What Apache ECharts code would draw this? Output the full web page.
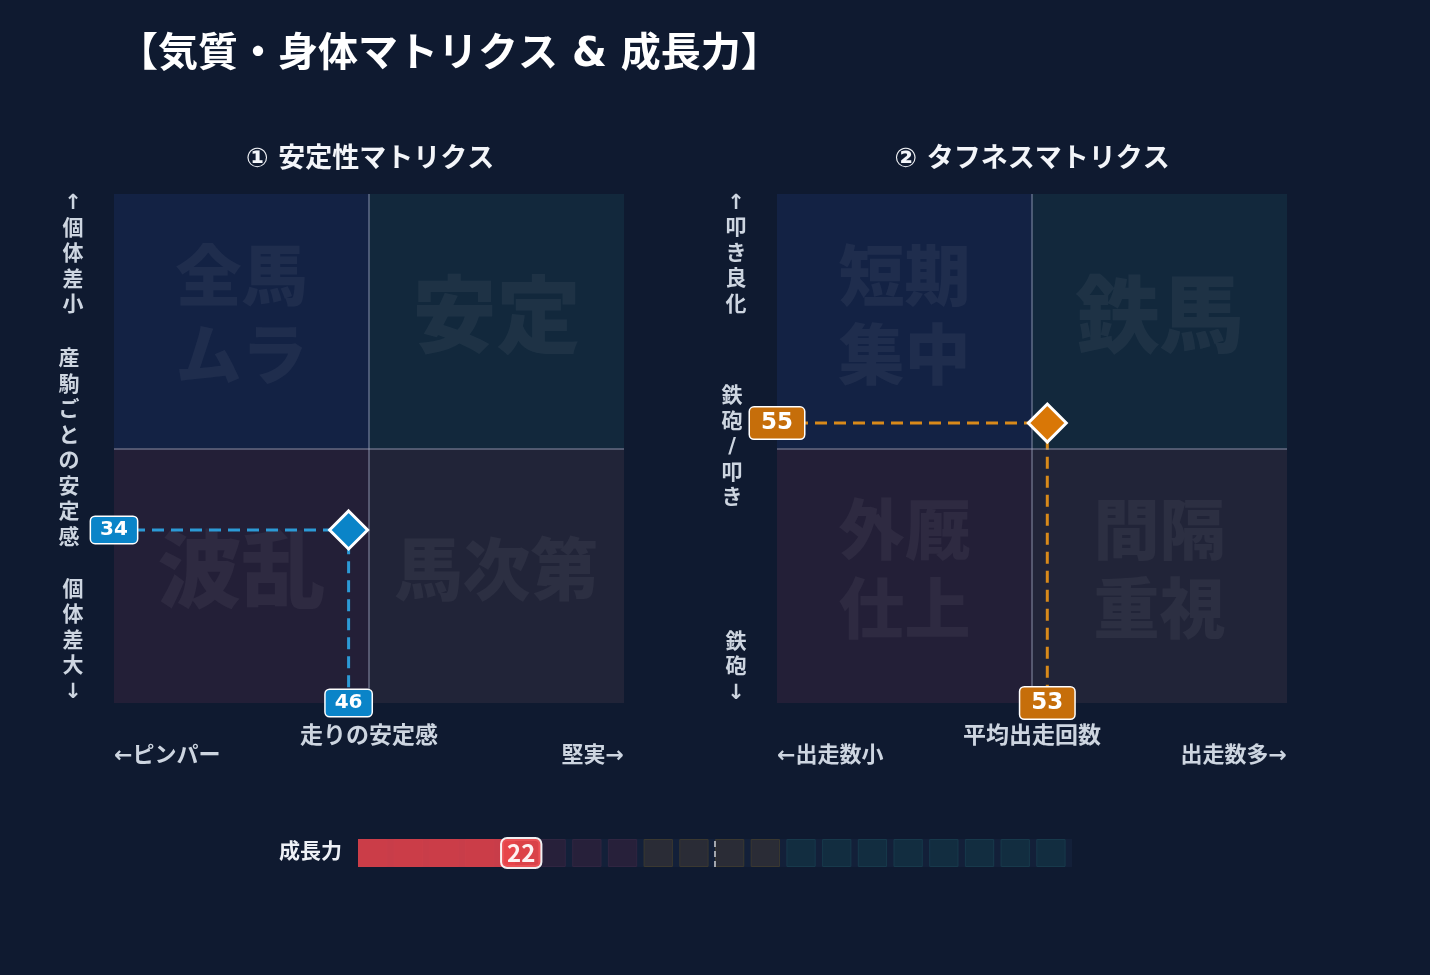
<!DOCTYPE html>
<html><head><meta charset="utf-8">
<script src="https://cdn.jsdelivr.net/npm/echarts@6/dist/echarts.min.js"></script>
<style>html,body{margin:0;padding:0;background:#0f1a30;}#chart{width:1430px;height:975px;}</style>
</head><body><div id="chart"></div>
<script>
// ---------- data ----------
const titleText = '【気質・身体マトリクス & 成長力】';
const matrixTitles = ['① 安定性マトリクス', '② タフネスマトリクス'];
// quadrant order: top-left, top-right, bottom-left, bottom-right
const stabilityQuadrants = ['全馬\nムラ', '安定', '波乱', '馬次第'];
const toughnessQuadrants = ['短期\n集中', '鉄馬', '外厩\n仕上', '間隔\n重視'];
const stabilityPoint = [46, 34];
const toughnessPoint = [53, 55];
const stabilityXLabels = ['←ピンパー', '走りの安定感', '堅実→'];
const stabilityYLabels = ['↑個体差小', '産駒ごとの安定感', '個体差大↓'];
const toughnessXLabels = ['←出走数小', '平均出走回数', '出走数多→'];
const toughnessYLabels = ['↑叩き良化', '鉄砲/叩き', '鉄砲↓'];
const axisRange = [0, 100];
const midValue = 50;
const growthCategory = ['成長力'];
const growthValue = [22];
const growthCellStarts = [0,5,10,15,20,25,30,35,40,45,50,55,60,65,70,75,80,85,90,95];
const growthBandEdges = [0, 25, 40, 60, 100];

// ---------- styles ----------
const FONT = "'DejaVu Sans', 'Noto Sans CJK JP', sans-serif";
const BG = '#0f1a30';
const quadColors = ['#132244', '#12283c', '#231f37', '#212438'];
const wmColor = 'rgba(255,255,255,0.05)';
const labelColor = '#cdd5e0';
const bandStyles = [
  {fill: '#3a2233', stroke: '#4a2a3a'},
  {fill: '#27203a', stroke: '#302541'},
  {fill: '#2a2c36', stroke: '#3a3830'},
  {fill: '#122d40', stroke: '#17394b'}
];
const matrices = [
  {quads: stabilityQuadrants, quadFont: [66, 84, 84, 68], point: stabilityPoint,
   fill: '#0a84c8', dash: '#2c9ad6', labelFill: '#0a84c8', labFont: 20, labPad: [2, 9]},
  {quads: toughnessQuadrants, quadFont: [66, 84, 66, 66], point: toughnessPoint,
   fill: '#d97706', dash: '#d98a1a', labelFill: '#c66e0a', labFont: 23, labPad: [3, 11]}
];

const grids = [
  {left: 114, top: 194, width: 510, height: 509},
  {left: 777, top: 194, width: 510, height: 509},
  {left: 358, top: 839, width: 714, height: 28}
];
const xAxes = [], yAxes = [], series = [];
matrices.forEach((m, i) => {
  xAxes.push({gridIndex: i, type: 'value', min: axisRange[0], max: axisRange[1], show: false});
  yAxes.push({gridIndex: i, type: 'value', min: axisRange[0], max: axisRange[1], show: false});
  const [lo, hi] = axisRange;
  const areas = [
    [[lo, midValue], [midValue, hi]],
    [[midValue, midValue], [hi, hi]],
    [[lo, lo], [midValue, midValue]],
    [[midValue, lo], [hi, midValue]]
  ].map((a, k) => [
    {xAxis: a[0][0], yAxis: a[0][1], name: m.quads[k],
     itemStyle: {color: quadColors[k]},
     label: {show: true, position: 'inside', formatter: '{b}', color: wmColor, offset: [0, -7],
       fontSize: m.quadFont[k], lineHeight: m.quadFont[k] * 1.2, fontWeight: 900,
       fontFamily: "'Noto Sans CJK JP', sans-serif"}},
    {xAxis: a[1][0], yAxis: a[1][1]}
  ]);
  series.push({
    type: 'line', xAxisIndex: i, yAxisIndex: i, data: [[midValue, midValue]],
    showSymbol: false, symbol: 'none', silent: true, z: 1,
    lineStyle: {width: 0},
    markArea: {silent: true, data: areas},
    markLine: {silent: true, symbol: 'none', label: {show: false},
      lineStyle: {type: 'solid', color: 'rgba(170,180,205,0.38)', width: 2},
      data: [{xAxis: midValue}, {yAxis: midValue}]}
  });
  const [px, py] = m.point;
  series.push({
    type: 'line', xAxisIndex: i, yAxisIndex: i, z: 3, silent: true,
    data: [[lo, py], [px, py], [px, lo]], symbol: 'none',
    lineStyle: {type: [12, 7], width: 3, color: m.dash}
  });
  series.push({
    type: 'scatter', xAxisIndex: i, yAxisIndex: i, z: 5, silent: true,
    data: [m.point], symbol: 'diamond', symbolSize: 38,
    itemStyle: {color: m.fill, borderColor: '#ffffff', borderWidth: 3, opacity: 1}
  });
  series.push({
    type: 'scatter', xAxisIndex: i, yAxisIndex: i, z: 6, silent: true, clip: false,
    data: [{value: [lo, py], name: String(py)}, {value: [px, lo], name: String(px)}],
    symbolSize: 1, itemStyle: {color: 'rgba(0,0,0,0)', opacity: 1},
    label: {show: true, position: 'inside', formatter: '{b}', color: '#ffffff',
      fontFamily: FONT, fontWeight: 'bold', fontSize: m.labFont, lineHeight: m.labFont + 2,
      backgroundColor: m.labelFill, borderColor: '#ffffff', borderWidth: 1.5,
      borderRadius: 4, padding: m.labPad}
  });
});

// growth bar
xAxes.push({gridIndex: 2, type: 'value', min: axisRange[0], max: axisRange[1], show: false});
yAxes.push({gridIndex: 2, type: 'category', data: growthCategory,
  axisLine: {show: false}, axisTick: {show: false}, splitLine: {show: false},
  axisLabel: {show: true, margin: 16, color: '#eef1f6', fontSize: 21, fontWeight: 'bold', fontFamily: FONT}});
series.push({
  type: 'custom', xAxisIndex: 2, yAxisIndex: 2, z: 2, silent: true,
  data: growthCellStarts.map(s => [s, 0]),
  renderItem: function (params, api) {
    const s = api.value(0);
    let b = 0;
    for (let k = 0; k < growthBandEdges.length - 1; k++) if (s >= growthBandEdges[k]) b = k;
    const p0 = api.coord([s, 0]);
    const p1 = api.coord([s + 4.1, 0]);
    const h = api.size([0, 1])[1];
    return {type: 'rect', shape: {x: p0[0] + 0.5, y: p0[1] - h / 2 + 0.5, width: p1[0] - p0[0] - 1, height: h - 1},
      style: {fill: bandStyles[b].fill, stroke: bandStyles[b].stroke, lineWidth: 1}};
  },
  markArea: {silent: true, itemStyle: {color: '#132039'}, data: [[{xAxis: axisRange[0]}, {xAxis: axisRange[1]}]]}
});
series.push({
  type: 'bar', xAxisIndex: 2, yAxisIndex: 2, z: 3, silent: true,
  data: growthValue, barWidth: '100%',
  itemStyle: {color: '#d6404a', opacity: 0.93},
  label: {show: true, position: 'right', distance: 0, offset: [-13, 0],
    color: '#ffffff', fontFamily: "'Noto Sans CJK JP', sans-serif", fontWeight: 'bold', fontSize: 24, lineHeight: 26,
    backgroundColor: '#e8454a', borderColor: '#ffffff', borderWidth: 2, borderRadius: 5, padding: [1, 5]},
  markLine: {silent: true, symbol: 'none', label: {show: false},
    lineStyle: {type: [6, 4], color: '#a2a6ae', width: 2},
    data: [{xAxis: midValue}]}
});

// text graphics
function txt(str, x, y, size, align, color) {
  return {type: 'text', x: x, y: y, silent: true,
    style: {text: str, fontSize: size, fontWeight: 'bold', fontFamily: FONT, fill: color || labelColor,
      align: align || 'center', verticalAlign: 'middle'}};
}
function vtxt(str, x, y) {
  return {type: 'text', x: x, y: y, silent: true,
    style: {text: str.split('').join('\n'), fontSize: 21, lineHeight: 25.5, fontWeight: 'bold', fontFamily: FONT,
      fill: labelColor, align: 'center', verticalAlign: 'middle'}};
}
const graphics = [
  txt(titleText, 118, 56, 40, 'left', '#ffffff'),
  txt(matrixTitles[0], 370, 160, 27, 'center', '#f3f5f9'),
  txt(matrixTitles[1], 1032, 160, 27, 'center', '#f3f5f9'),
  txt(stabilityXLabels[0], 114, 756, 22, 'left'),
  txt(stabilityXLabels[1], 369, 737, 23, 'center'),
  txt(stabilityXLabels[2], 624, 756, 22, 'right'),
  txt(toughnessXLabels[0], 777, 756, 22, 'left'),
  txt(toughnessXLabels[1], 1032, 737, 23, 'center'),
  txt(toughnessXLabels[2], 1287, 756, 22, 'right'),
  vtxt(stabilityYLabels[0], 73, 255),
  vtxt(stabilityYLabels[1], 69, 449),
  vtxt(stabilityYLabels[2], 73, 641.5),
  vtxt(toughnessYLabels[0], 736, 254.5),
  vtxt(toughnessYLabels[1], 732, 448),
  vtxt(toughnessYLabels[2], 736, 668)
];

const chart = echarts.init(document.getElementById('chart'), null, {renderer: 'canvas'});
chart.setOption({
  backgroundColor: BG,
  animation: false,
  grid: grids,
  xAxis: xAxes,
  yAxis: yAxes,
  series: series,
  graphic: graphics
});
</script></body></html>
